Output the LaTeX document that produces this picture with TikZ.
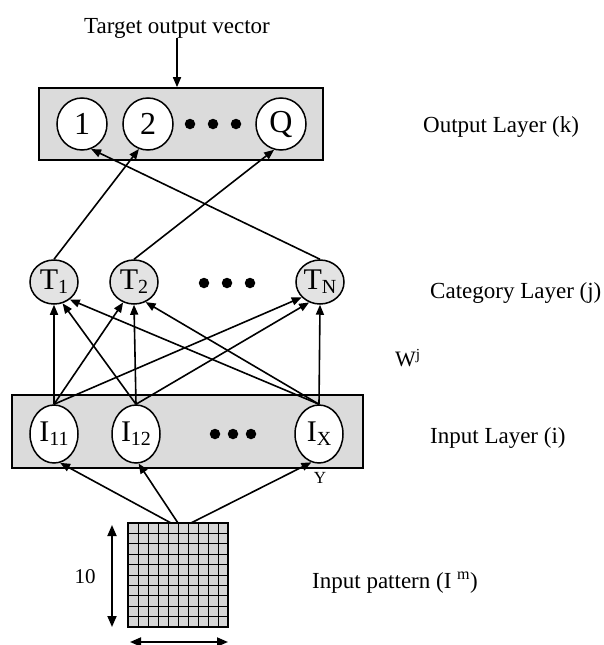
\documentclass[tikz,border=0pt]{standalone}
\usepackage{fontspec}
\setmainfont{Liberation Serif}
\usetikzlibrary{arrows.meta,shapes.geometric}
\newcommand{\mysub}[1]{\raisebox{-0.28ex}{\fontsize{20}{20}\selectfont #1}}
\begin{document}
\begin{tikzpicture}[x=1pt,y=-1pt,
  lab/.style={font=\fontsize{23}{27}\selectfont, anchor=west, inner sep=0},
  onode/.style={ellipse, draw, line width=1.5pt, fill=white, minimum width=50pt, minimum height=52pt, inner sep=0, font=\fontsize{32}{32}\selectfont},
  tnode/.style={ellipse, draw, line width=1.5pt, fill=gray!22, minimum width=48pt, minimum height=44pt, inner sep=0, font=\fontsize{30}{30}\selectfont},
  inode/.style={ellipse, draw, line width=1.5pt, fill=white, minimum width=48pt, minimum height=58pt, inner sep=0, font=\fontsize{30}{30}\selectfont},
  layerbox/.style={draw, line width=1.6pt, fill=gray!28, inner sep=0},
  dotn/.style={circle, fill=black, inner sep=0, minimum size=10.5pt},
  arr/.style={-{Triangle[length=10pt,width=8pt]}, line width=1.6pt},
  darr/.style={{Triangle[length=11pt,width=9pt]}-{Triangle[length=11pt,width=9pt]}, line width=1.8pt}
]
\useasboundingbox (0,0) rectangle (604,645);

% target
\node[font=\fontsize{23}{27}\selectfont, inner sep=0] (tgt) at (177,28) {Target output vector};

% output layer
\node[layerbox, minimum width=284pt, minimum height=72pt] (obox) at (181,124) {};
\node[onode] (o1) at (82,124) {1};
\node[onode] (o2) at (148,124) {2};
\node[onode] (oQ) at (281,124) {Q};
\node[dotn] (od1) at (190,124) {};
\node[dotn] (od2) at (213,124) {};
\node[dotn] (od3) at (236,124) {};
\draw[arr] (tgt.south) -- (tgt.south |- obox.north);

% category layer
\node[tnode] (T1) at (54,282) {T\mysub{1}};
\node[tnode] (T2) at (134,282) {T\mysub{2}};
\node[tnode] (TN) at (320,282) {T\mysub{N}};
\node[dotn] (td1) at (204,283) {};
\node[dotn] (td2) at (227,283) {};
\node[dotn] (td3) at (250,283) {};

% input layer
\node[layerbox, minimum width=351pt, minimum height=73pt] (ibox) at (187.5,431.5) {};
\node[inode] (I11) at (54,434) {I\mysub{11}};
\node[inode] (I12) at (136,434) {I\mysub{12}};
\node[inode] (IX) at (319,434) {I\mysub{X}};
\node[dotn] (id1) at (215,434) {};
\node[dotn] (id2) at (233,434) {};
\node[dotn] (id3) at (251,434) {};

% labels
\node[lab] (lo) at (423,127) {Output Layer (k)};
\node[lab] (lc) at (430,293) {Category Layer (j)};
\node[lab, font=\fontsize{22}{24}\selectfont] (lw) at (395,358) {W\textsuperscript{j}};
\node[lab] (li) at (430,438) {Input Layer (i)};
\node[lab] (lp) at (312,583) {Input pattern (I~\textsuperscript{m})};
\node[font=\fontsize{17}{20}\selectfont, inner sep=0] (ly) at (320,478) {Y};
\node[font=\fontsize{21}{24}\selectfont, inner sep=0] (l10) at (85,577) {10};

% grid
\node[draw, line width=1.3pt, fill=gray!32, minimum width=100pt, minimum height=104pt, inner sep=0] (grid) at (178,575) {};
\foreach \i in {1,...,9} {
  \draw[line width=1pt] (128+10*\i,523) -- (128+10*\i,627);
  \draw[line width=1pt] (128,523+10.4*\i) -- (228,523+10.4*\i);
}
\coordinate (g1) at (171,523);
\coordinate (g2) at (178,523);
\coordinate (g3) at (191,523);
\coordinate (va) at (112,525);
\coordinate (vb) at (112,627);
\coordinate (ha) at (130,642);
\coordinate (hb) at (228,642);
\draw[darr] (va) -- (vb);
\draw[darr] (ha) -- (hb);

% pattern -> input
\draw[arr] (g1) -- (I11.-78);
\draw[arr] (g2) -- (I12.-85);
\draw[arr] (g3) -- (IX.-105);

% input -> category
\draw[arr] (I11.north) -- (T1.-90);
\draw[arr] (I11.north) -- (T2.-118);
\draw[arr] (I11.north) -- (TN.-140);
\draw[arr] (I12.north) -- (T1.-68);
\draw[arr] (I12.north) -- (T2.-90);
\draw[arr] (I12.north) -- (TN.-118);
\draw[arr] (IX.north) -- (T1.-48);
\draw[arr] (IX.north) -- (T2.-60);
\draw[arr] (IX.north) -- (TN.-90);

% category -> output
\draw[arr] (T1.north) -- (o2.-110);
\draw[arr] (T2.north) -- (oQ.-105);
\draw[arr] (TN.north) -- (o1.-70);
\end{tikzpicture}
\end{document}
